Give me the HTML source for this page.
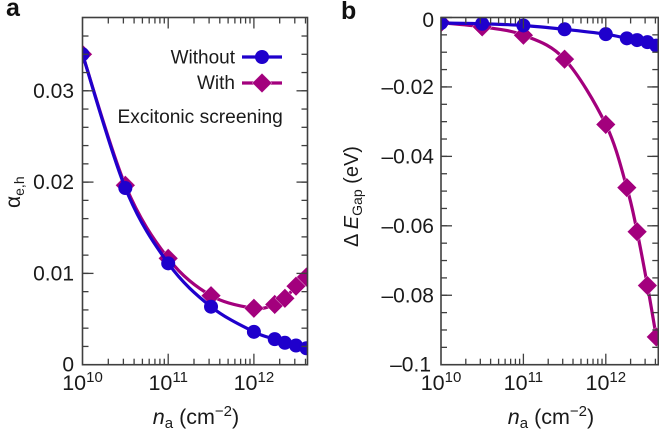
<!DOCTYPE html>
<html>
<head>
<meta charset="utf-8">
<style>
html,body{margin:0;padding:0;background:#fff;}
svg{display:block;font-family:"Liberation Sans",sans-serif;fill:#1a1a1a;}
</style>
</head>
<body>
<svg id="fig" width="659" height="432" viewBox="0 0 659 432" xmlns="http://www.w3.org/2000/svg">
<defs>
<clipPath id="clipA"><rect x="82.5" y="17.5" width="225" height="347.2"/></clipPath>
<clipPath id="clipB"><rect x="441" y="17.5" width="217.5" height="347.2"/></clipPath>
</defs>
</svg>
<script>
// Panel a data
const densityA = [1e10, 3.16e10, 1e11, 3.16e11, 1e12, 1.75e12, 2.3e12, 3.1e12, 4.1e12];
const alphaWithout = [0.034, 0.01935, 0.0111, 0.00635, 0.0036, 0.0028, 0.0024, 0.0021, 0.0018];
const alphaWith = [0.034, 0.01965, 0.01165, 0.00756, 0.00618, 0.0066, 0.00727, 0.0086, 0.0096];
const alphaTicks = [0, 0.01, 0.02, 0.03];
const alphaTickLabels = ['0', '0.01', '0.02', '0.03'];
// Panel b data
const densityB = [1e10, 3.16e10, 1e11, 3.16e11, 1e12, 1.8e12, 2.4e12, 3.2e12, 4.1e12];
const gapWithout = [-0.0016, -0.0018, -0.0023, -0.0034, -0.0048, -0.006, -0.0065, -0.0071, -0.0081];
const gapWith = [-0.0015, -0.0027, -0.0051, -0.012, -0.0308, -0.049, -0.0617, -0.0772, -0.092];
const gapTicks = [0, -0.02, -0.04, -0.06, -0.08, -0.1];
const gapTickLabels = ['0', '\u20130.02', '\u20130.04', '\u20130.06', '\u20130.08', '\u20130.1'];
// Shared x axis
const decadeExponents = [10, 11, 12];
const minorMultipliers = [2, 3, 4, 5, 6, 7, 8, 9];

const BLUE = '#1f00cc', MAGENTA = '#a3007d', AXIS = '#3f3f3f';
const LINE_W = 3.2, CIRCLE_R = 7, DIAMOND_R = 9.8;
const svg = document.getElementById('fig');
const NS = 'http://www.w3.org/2000/svg';

function mk(tag, attrs, parent) {
  const e = document.createElementNS(NS, tag);
  for (const k in attrs) e.setAttribute(k, attrs[k]);
  (parent || svg).appendChild(e);
  return e;
}
function group(name) {
  const g = mk('g', {});
  
  
  return g;
}
function smooth(pts) {
  let d = 'M' + pts[0][0] + ' ' + pts[0][1];
  for (let i = 0; i < pts.length - 1; i++) {
    const p0 = pts[Math.max(i - 1, 0)], p1 = pts[i], p2 = pts[i + 1], p3 = pts[Math.min(i + 2, pts.length - 1)];
    const c1x = p1[0] + (p2[0] - p0[0]) / 6, c1y = p1[1] + (p2[1] - p0[1]) / 6;
    const c2x = p2[0] - (p3[0] - p1[0]) / 6, c2y = p2[1] - (p3[1] - p1[1]) / 6;
    d += 'C' + c1x + ' ' + c1y + ' ' + c2x + ' ' + c2y + ' ' + p2[0] + ' ' + p2[1];
  }
  return d;
}
function diamond(parent, x, y, r) {
  const el = mk('polygon', {
    points: [x, y - r, x + r, y, x, y + r, x - r, y].join(' '),
    fill: MAGENTA, stroke: '#fff', 'stroke-width': 0.4
  }, parent);
  
  
  return el;
}
function circle(parent, x, y, r) {
  const el = mk('circle', { cx: x, cy: y, r: r, fill: BLUE }, parent);
  
  
  return el;
}
function series(name, clip, xs, ys, sx, sy, color, kind) {
  const g = group(name);
  g.setAttribute('clip-path', 'url(#' + clip + ')');
  const pts = xs.map((v, i) => [sx(v), sy(ys[i])]);
  const path = mk('path', { d: smooth(pts), fill: 'none', stroke: color, 'stroke-width': LINE_W }, g);
  
  
  pts.forEach(p => {
    if (kind === 'diamond') diamond(g, p[0], p[1], DIAMOND_R);
    else circle(g, p[0], p[1], CIRCLE_R);
  });
}
function line(parent, x1, y1, x2, y2) {
  return mk('line', { x1, y1, x2, y2, stroke: AXIS, 'stroke-width': 1.3 }, parent);
}
function panel(cfg) {
  const g = group(cfg.name + '-axes');
  const frame = mk('rect', {
    x: cfg.left, y: cfg.top, width: cfg.right - cfg.left, height: cfg.bottom - cfg.top,
    fill: 'none', stroke: AXIS, 'stroke-width': 1.6
  }, g);
  
  

  // x ticks
  const xmax = cfg.xmax;
  decadeExponents.forEach(exp => {
    const v = Math.pow(10, exp), x = cfg.sx(v);
    if (exp > 10) {
      line(g, x, cfg.bottom, x, cfg.bottom - 11);
      line(g, x, cfg.top, x, cfg.top + 11);
    }
    minorMultipliers.forEach(m => {
      if (m * v <= xmax) {
        const xm = cfg.sx(m * v);
        line(g, xm, cfg.bottom, xm, cfg.bottom - 6);
        line(g, xm, cfg.top, xm, cfg.top + 6);
      }
    });
    const label = mk('text', { x: x + cfg.xLabelShift, y: 390, 'text-anchor': 'middle', 'font-size': 21.5 }, g);
    
    
    label.appendChild(document.createTextNode('10'));
    const sup = mk('tspan', { dy: -8, 'font-size': 15 }, label);
    sup.textContent = exp;
  });

  // y ticks
  cfg.minorY.forEach(v => {
    const y = cfg.sy(v);
    line(g, cfg.left, y, cfg.left + 6, y);
    line(g, cfg.right, y, cfg.right - 6, y);
  });
  cfg.ticks.forEach((v, i) => {
    const y = cfg.sy(v);
    line(g, cfg.left, y, cfg.left + 11, y);
    line(g, cfg.right, y, cfg.right - 11, y);
    const isEnd = (cfg.ticks[i] === cfg.endTick);
    const t = mk('text', {
      x: isEnd ? cfg.labelRight - cfg.endShift : cfg.labelRight,
      y: y + cfg.labelDy(v),
      'text-anchor': 'end', 'font-size': 21
    }, g);
    
    
    t.textContent = cfg.labels[i];
  });
}

// ---------- Panel a ----------
const ax = { left: 82.5, right: 307.5, top: 17.5, bottom: 364.7 };
const sxA = v => ax.left + (Math.log10(v) - 10) * 85.7;
const syA = v => ax.bottom - v * 9130;
series('with-screening-alpha', 'clipA', densityA, alphaWith, sxA, syA, MAGENTA, 'diamond');
series('without-screening-alpha', 'clipA', densityA, alphaWithout, sxA, syA, BLUE, 'circle');
const minorA = [];
for (let i = 1; i <= 19; i++) minorA.push(i * 0.002);
panel({
  name: 'panel-a', left: ax.left, right: ax.right, top: ax.top, bottom: ax.bottom,
  sx: sxA, sy: syA, xmax: 4.2e12, xLabelShift: 0,
  minorY: minorA.filter(v => syA(v) > ax.top + 1), ticks: alphaTicks, labels: alphaTickLabels,
  labelRight: 74, labelDy: () => 7, endTick: null, endShift: 0
});

// ---------- Panel b ----------
const bx = { left: 441, right: 658.3, top: 17.5, bottom: 364.7 };
const sxB = v => bx.left + (Math.log10(v) - 10) * 82.4;
const syB = v => bx.top - v * 3472;
series('with-screening-gap', 'clipB', densityB, gapWith, sxB, syB, MAGENTA, 'diamond');
series('without-screening-gap', 'clipB', densityB, gapWithout, sxB, syB, BLUE, 'circle');
const minorB = [];
for (let i = 1; i <= 19; i++) minorB.push(-i * 0.005);
panel({
  name: 'panel-b', left: bx.left, right: bx.right, top: bx.top, bottom: bx.bottom,
  sx: sxB, sy: syB, xmax: 4.2e12, xLabelShift: 0,
  minorY: minorB, ticks: gapTicks, labels: gapTickLabels,
  labelRight: 434, labelDy: v => (v === 0 ? 9.5 : 7), endTick: -0.1, endShift: 3
});

// ---------- Legend ----------
const legend = group('legend');
const legendWithoutLabel = mk('text', { x: 235, y: 63.5, 'text-anchor': 'end', 'font-size': 19 }, legend);


legendWithoutLabel.textContent = 'Without';
const legendWithLabel = mk('text', { x: 235, y: 89, 'text-anchor': 'end', 'font-size': 19 }, legend);


legendWithLabel.textContent = 'With';
mk('line', { x1: 242, y1: 57, x2: 282, y2: 57, stroke: BLUE, 'stroke-width': LINE_W }, legend);
circle(legend, 262, 57, CIRCLE_R);
mk('line', { x1: 242, y1: 83, x2: 282, y2: 83, stroke: MAGENTA, 'stroke-width': LINE_W }, legend);
diamond(legend, 262, 83, DIAMOND_R);
const legendNote = mk('text', { x: 117.5, y: 123, 'font-size': 19.2 }, legend);


legendNote.textContent = 'Excitonic screening';

// ---------- Titles ----------
function panelLetter(text, x, y, name) {
  const t = mk('text', { x, y, 'font-size': 25, 'font-weight': 'bold', fill: '#111' });
  
  
  t.textContent = text;
}
panelLetter('a', 6, 16, 'panel-a-letter');
panelLetter('b', 341, 19, 'panel-b-letter');

function xTitle(cx, name) {
  const t = mk('text', { x: cx, y: 424, 'text-anchor': 'middle', 'font-size': 21.5 });
  
  
  const n = mk('tspan', { 'font-style': 'italic' }, t); n.textContent = 'n';
  const a = mk('tspan', { dy: 4, 'font-size': 15 }, t); a.textContent = 'a';
  const b = mk('tspan', { dy: -4 }, t); b.textContent = ' (cm';
  const c = mk('tspan', { dy: -8, 'font-size': 15 }, t); c.textContent = '\u22122';
  const d = mk('tspan', { dy: 8 }, t); d.textContent = ')';
}
xTitle(196, 'panel-a-x-axis-title');
xTitle(551, 'panel-b-x-axis-title');

const yA = mk('text', { transform: 'translate(20 208) rotate(-90)', 'font-size': 21 });


const yA1 = mk('tspan', {}, yA); yA1.textContent = '\u03b1';
const yA2 = mk('tspan', { dy: 4, 'font-size': 14 }, yA); yA2.textContent = 'e,h';

const yB = mk('text', { transform: 'translate(358 247) rotate(-90)', 'font-size': 20 });


const yB1 = mk('tspan', {}, yB); yB1.textContent = '\u0394 ';
const yB2 = mk('tspan', { 'font-style': 'italic' }, yB); yB2.textContent = 'E';
const yB3 = mk('tspan', { dy: 4, 'font-size': 14 }, yB); yB3.textContent = 'Gap';
const yB4 = mk('tspan', { dy: -4 }, yB); yB4.textContent = ' (eV)';
</script>
</body>
</html>
